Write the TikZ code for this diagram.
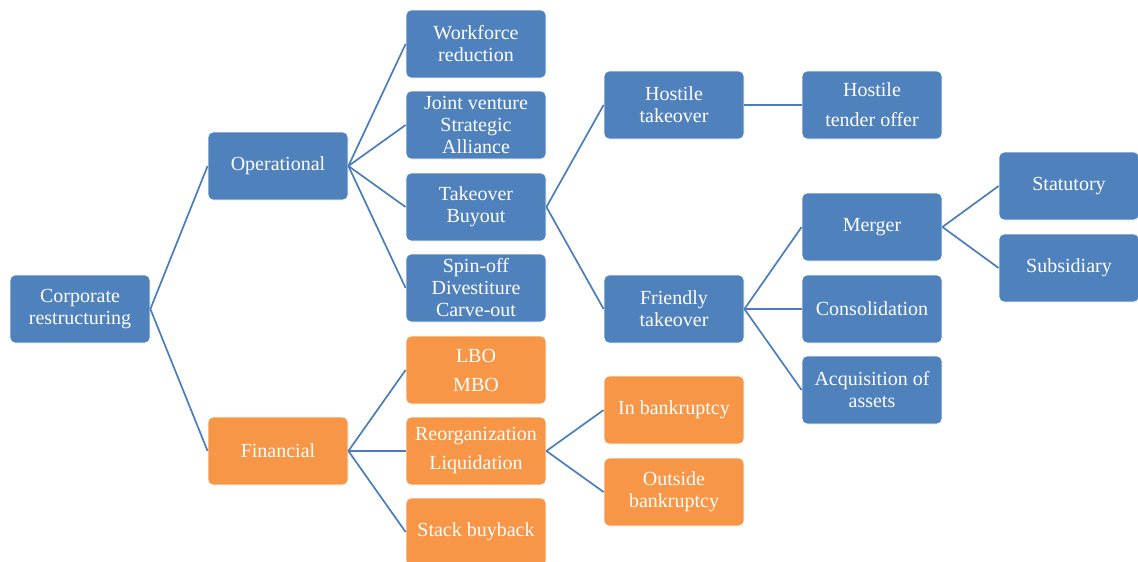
\documentclass[tikz,border=0pt]{standalone}
\usepackage{fontspec}
\setmainfont{Liberation Serif}
\begin{document}
\begin{tikzpicture}[x=1pt,y=-1pt,
  box/.style={draw=white, line width=0.8pt, rounded corners=5pt,
    minimum width=140pt, minimum height=68pt, inner sep=2pt,
    text=white, align=center, font=\fontsize{20}{22}\selectfont},
  blu/.style={box, fill=blueA},
  org/.style={box, fill=orangeA},
  wide/.style={font=\fontsize{20}{29}\selectfont},
  link/.style={draw=lineA, line width=1.7pt}]
\definecolor{blueA}{HTML}{4F81BD}
\definecolor{orangeA}{HTML}{F79646}
\definecolor{lineA}{HTML}{4A7EBB}
\useasboundingbox (0,0) rectangle (1138,562);

% root and first level
\node[blu] (root) at (80,309) {Corporate\\restructuring};
\node[blu] (op) at (278,166) {Operational};
\node[org] (fin) at (278,451) {Financial};

% second level
\node[blu] (wf) at (476,44) {Workforce\\reduction};
\node[blu] (jv) at (476,125) {Joint venture\\Strategic\\Alliance};
\node[blu] (tb) at (476,207) {Takeover\\Buyout};
\node[blu] (sp) at (476,288) {Spin-off\\Divestiture\\Carve-out};
\node[org, wide] (lbo) at (476,370) {LBO\\MBO};
\node[org, wide] (reo) at (476,451) {Reorganization\\Liquidation};
\node[org] (sb) at (476,532) {Stack buyback};

% third level
\node[blu] (ht) at (674,105) {Hostile\\takeover};
\node[blu] (ft) at (674,309) {Friendly\\takeover};
\node[org] (inb) at (674,410) {In bankruptcy};
\node[org] (outb) at (674,492) {Outside\\bankruptcy};

% fourth level
\node[blu, font=\fontsize{20}{30}\selectfont] (hto) at (872,105) {Hostile\\tender offer};
\node[blu] (mer) at (872,227) {Merger};
\node[blu] (con) at (872,309) {Consolidation};
\node[blu] (acq) at (872,390) {Acquisition of\\assets};

% fifth level
\node[blu] (sta) at (1069,186) {Statutory};
\node[blu] (sub) at (1069,268) {Subsidiary};

% connectors
\foreach \a/\b in {root/op, root/fin,
    op/wf, op/jv, op/tb, op/sp,
    fin/lbo, fin/reo, fin/sb,
    tb/ht, tb/ft, reo/inb, reo/outb,
    ht/hto, ft/mer, ft/con, ft/acq,
    mer/sta, mer/sub}
  \draw[link] (\a.east) -- (\b.west);
\end{tikzpicture}
\end{document}
